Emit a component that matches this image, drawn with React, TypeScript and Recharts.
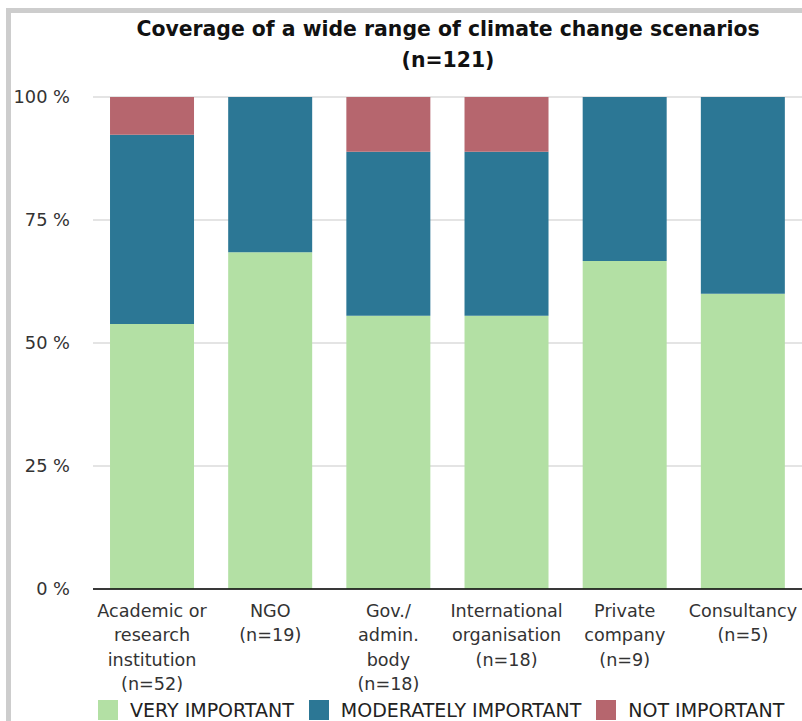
import { BarChart, Bar, XAxis, YAxis, CartesianGrid } from 'recharts'

const categories = [
  'Academic or\nresearch\ninstitution\n(n=52)',
  'NGO\n(n=19)',
  'Gov./\nadmin.\nbody\n(n=18)',
  'International\norganisation\n(n=18)',
  'Private\ncompany\n(n=9)',
  'Consultancy\n(n=5)',
]

// respondent counts per group
const veryImportant = [28, 13, 10, 10, 6, 3]
const moderatelyImportant = [20, 6, 6, 6, 3, 2]
const notImportant = [4, 0, 2, 2, 0, 0]

const yTicks = [0, 0.25, 0.5, 0.75, 1]

const series = [
  { key: 'very', name: 'VERY IMPORTANT', color: '#b3e0a4' },
  { key: 'moderate', name: 'MODERATELY IMPORTANT', color: '#2c7795' },
  { key: 'not', name: 'NOT IMPORTANT', color: '#b6666e' },
]

const data = categories.map((c, i) => ({
  name: c,
  very: veryImportant[i],
  moderate: moderatelyImportant[i],
  not: notImportant[i],
}))

const FONT = '"DejaVu Sans", sans-serif'

function CategoryTick({ x, y, payload }: any) {
  const lines = String(payload.value).split('\n')
  return (
    <text x={x} y={y} textAnchor="middle" fill="#333" fontSize={17.6} fontFamily={FONT}>
      {lines.map((l, i) => (
        <tspan key={i} x={x} dy={i === 0 ? 18 : 24.3}>
          {l}
        </tspan>
      ))}
    </text>
  )
}

export default function App() {
  return (
    <div style={{ position: 'relative', width: 802, height: 721, overflow: 'hidden', background: '#fff' }}>
      <style>{'body{margin:0}'}</style>
      {/* grey frame, cut off at right/bottom */}
      <div
        style={{
          position: 'absolute',
          left: 6,
          top: 8,
          width: 900,
          height: 900,
          border: '5px solid #cdcdcd',
          boxSizing: 'border-box',
        }}
      />
      <div
        style={{
          position: 'absolute',
          left: 0,
          top: 14,
          width: 896,
          textAlign: 'center',
          fontFamily: FONT,
          fontWeight: 'bold',
          fontSize: 20.4,
          lineHeight: '31px',
          color: '#111',
        }}
      >
        Coverage of a wide range of climate change scenarios
        <br />
        (n=121)
      </div>
      <div style={{ position: 'absolute', left: 0, top: 0 }}>
        <BarChart
          width={802}
          height={721}
          data={data}
          stackOffset="expand"
          barCategoryGap="14.4%"
          margin={{ top: 97, right: 0, left: 0, bottom: 0 }}
        >
          <CartesianGrid vertical={false} stroke="#c9c9c9" />
          <XAxis
            dataKey="name"
            interval={0}
            height={132}
            tickLine={false}
            tickMargin={4}
            axisLine={{ stroke: '#000', strokeWidth: 1.5 }}
            tick={<CategoryTick />}
          />
          <YAxis
            width={93}
            domain={[0, 1]}
            ticks={yTicks}
            axisLine={false}
            tickLine={false}
            tickMargin={17}
            tickFormatter={(v: number) => `${Math.round(v * 100)} %`}
            tick={{ fill: '#333', fontSize: 17.8, fontFamily: FONT }}
          />
          {series.map((s) => (
            <Bar
              key={s.key}
              dataKey={s.key}
              name={s.name}
              stackId="a"
              fill={s.color}
              isAnimationActive={false}
            />
          ))}
        </BarChart>
      </div>
      <div
        style={{
          position: 'absolute',
          left: 98,
          top: 700,
          display: 'flex',
          alignItems: 'center',
          fontFamily: FONT,
          fontSize: 19,
          color: '#222',
          whiteSpace: 'nowrap',
        }}
      >
        {series.map((s) => (
          <div key={s.key} style={{ display: 'flex', alignItems: 'center', marginRight: 15 }}>
            <span style={{ width: 20, height: 20, background: s.color, marginRight: 12, display: 'inline-block' }} />
            <span style={{ lineHeight: '20px' }}>{s.name}</span>
          </div>
        ))}
      </div>
    </div>
  )
}
